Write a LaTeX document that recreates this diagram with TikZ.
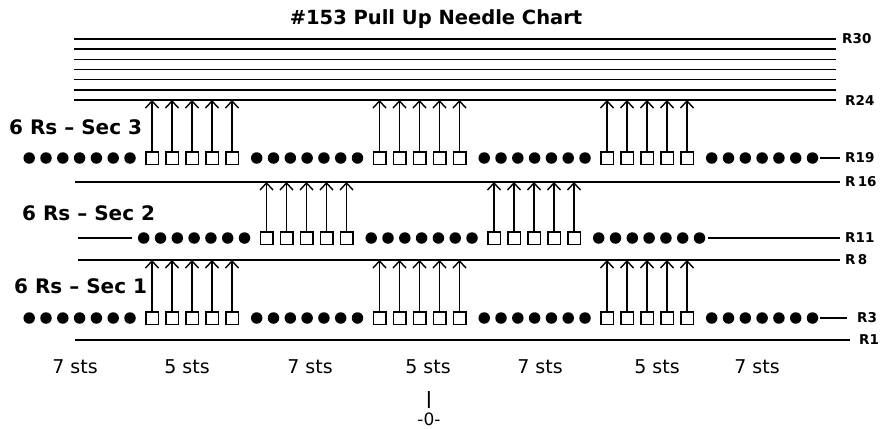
\documentclass[tikz,border=0pt]{standalone}
\usepackage{fontspec}
\setmainfont{DejaVu Sans}
\usetikzlibrary{arrows.meta}
\begin{document}
\begin{tikzpicture}[x=1pt,y=-1pt,
  rule/.style={line width=1.6pt},
  dotst/.style={circle,fill=black,inner sep=0pt,minimum size=11.5pt},
  sqst/.style={draw,line width=1.5pt,inner sep=0pt,minimum size=12.5pt},
  pull/.style={line width=1.5pt,-{Straight Barb[length=7pt,width=13pt,line width=1.4pt]}},
  rlab/.style={anchor=west,font=\fontsize{13.5}{16}\selectfont\bfseries,inner sep=0pt},
  seclab/.style={anchor=west,font=\fontsize{20}{22}\selectfont\bfseries,inner sep=0pt},
  stslab/.style={font=\fontsize{19}{21}\selectfont,inner sep=0pt}]

\useasboundingbox (0,0) rectangle (882,428);

% title
\node[font=\fontsize{19.5}{22}\selectfont\bfseries,inner sep=0pt] (title) at (436,19) {\#153 Pull Up Needle Chart};

% top rule lines R24..R30
\foreach \i in {0,...,6} {
  \coordinate (tl\i) at (74,{39+10.17*\i});
  \coordinate (tr\i) at (836,{39+10.17*\i});
  \draw[rule] (tl\i) -- (tr\i);
}
\coordinate (r24l) at (74,100);
\node[rlab] (lR30) at (842,39) {R30};
\node[rlab] (lR24) at (845,100) {R24};

% other rule lines
\coordinate (r16a) at (75,182);  \coordinate (r16b) at (840,182);
\coordinate (r8a) at (78,260);   \coordinate (r8b) at (840,260);
\coordinate (r1a) at (75,340);   \coordinate (r1b) at (850,340);
\draw[rule] (r16a) -- (r16b);
\draw[rule] (r8a) -- (r8b);
\draw[rule] (r1a) -- (r1b);
\node[rlab] (lR16) at (845,182) {R\,16};
\node[rlab] (lR8) at (845,260) {R\,8};
\node[rlab] (lR1) at (859,340) {R1};

% row R19
\foreach \g in {0,...,3}
  \foreach \i in {0,...,6}
    \node[dotst] (a\g\i) at ({29.2+227.5*\g+16.8*\i},158) {};
\foreach \k in {0,1,2}
  \foreach \j in {0,...,4}
    \node[sqst] (as\k\j) at ({152+227.5*\k+20*\j},158) {};
\coordinate (r19a) at (820,158); \coordinate (r19b) at (840,158);
\draw[rule] (r19a) -- (r19b);
\node[rlab] (lR19) at (845,158) {R19};
\foreach \k in {0,1,2}
  \foreach \j in {0,...,4}
    \draw[pull] (as\k\j.north) -- (as\k\j.north |- r24l);

% row R11
\foreach \g in {0,1,2}
  \foreach \i in {0,...,6}
    \node[dotst] (b\g\i) at ({143.7+227.5*\g+16.8*\i},238) {};
\foreach \k in {0,1}
  \foreach \j in {0,...,4}
    \node[sqst] (bs\k\j) at ({266.5+227.5*\k+20*\j},238) {};
\coordinate (r11a) at (78,238);  \coordinate (r11b) at (132,238);
\coordinate (r11c) at (708,238); \coordinate (r11d) at (840,238);
\draw[rule] (r11a) -- (r11b);
\draw[rule] (r11c) -- (r11d);
\node[rlab] (lR11) at (845,238) {R11};
\foreach \k in {0,1}
  \foreach \j in {0,...,4}
    \draw[pull] (bs\k\j.north) -- (bs\k\j.north |- r16a);

% row R3
\foreach \g in {0,...,3}
  \foreach \i in {0,...,6}
    \node[dotst] (c\g\i) at ({29.2+227.5*\g+16.8*\i},318) {};
\foreach \k in {0,1,2}
  \foreach \j in {0,...,4}
    \node[sqst] (cs\k\j) at ({152+227.5*\k+20*\j},318) {};
\coordinate (r3a) at (820,318); \coordinate (r3b) at (847,318);
\draw[rule] (r3a) -- (r3b);
\node[rlab] (lR3) at (857,318) {R3};
\foreach \k in {0,1,2}
  \foreach \j in {0,...,4}
    \draw[pull] (cs\k\j.north) -- (cs\k\j.north |- r8a);

% section labels
\node[seclab] (sec3) at (9,127) {6 Rs – Sec 3};
\node[seclab] (sec2) at (22,213) {6 Rs – Sec 2};
\node[seclab] (sec1) at (14,286) {6 Rs – Sec 1};

% stitch counts
\node[stslab] (n1) at (75,367) {7 sts};
\node[stslab] (n2) at (187,367) {5 sts};
\node[stslab] (n3) at (310,367) {7 sts};
\node[stslab] (n4) at (428,367) {5 sts};
\node[stslab] (n5) at (540,367) {7 sts};
\node[stslab] (n6) at (657,367) {5 sts};
\node[stslab] (n7) at (757,367) {7 sts};

% centre mark
\node[font=\fontsize{17}{19}\selectfont\bfseries,inner sep=0pt] (bar) at (429,400) {|};
\node[font=\fontsize{17}{19}\selectfont,inner sep=0pt] (zero) at (429,419) {-0-};
\end{tikzpicture}
\end{document}
